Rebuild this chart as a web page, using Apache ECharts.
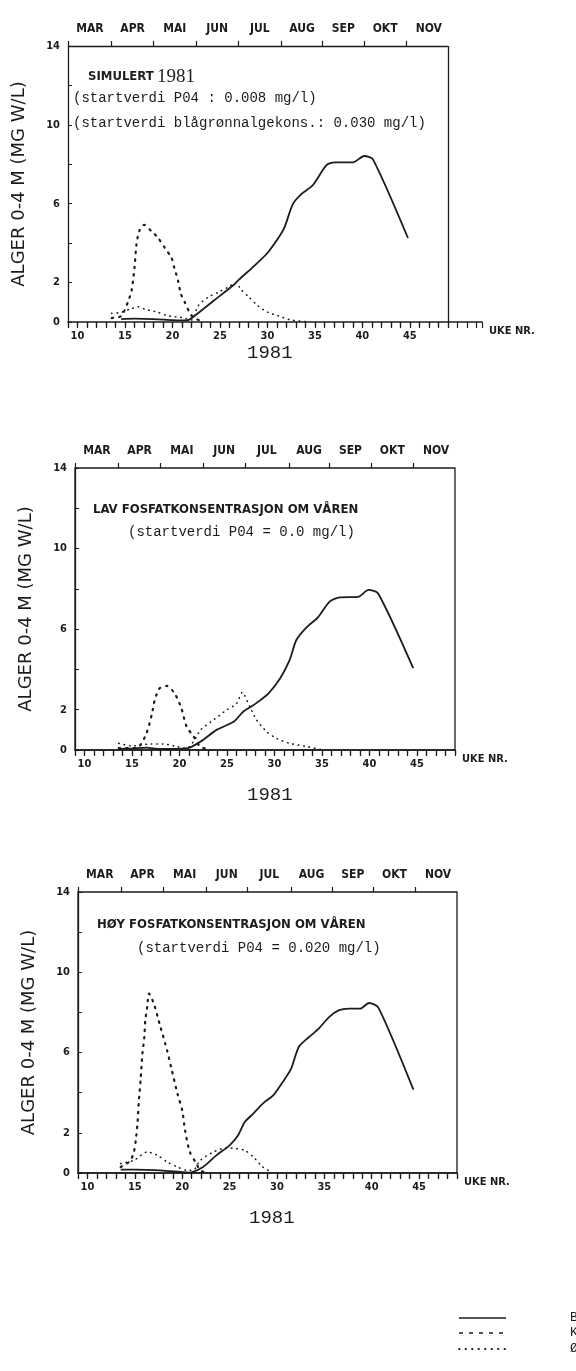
<!DOCTYPE html>
<html><head><meta charset="utf-8">
<script src="https://cdn.jsdelivr.net/npm/echarts@6/dist/echarts.min.js"></script>
<style>html,body{margin:0;padding:0;background:#fff}#c{width:576px;height:1371px}</style>
</head><body><div id="c"></div>
<script>
// ---- data (week number, mg W/L) ----
const monthNames = ['MAR','APR','MAI','JUN','JUL','AUG','SEP','OKT','NOV'];
const monthTicks = [9, 13.6, 18.0, 22.5, 26.9, 31.5, 35.8, 40.2, 44.6];
const yLabels = [0, 2, 6, 10, 14];
const xLabels = [10, 15, 20, 25, 30, 35, 40, 45];

const c1BU = [[14.6,0.15],[16,0.17],[18,0.15],[20,0.1],[21.5,0.08],[22.3,0.3],[24.4,1.1],[26.5,1.9],[27,2.15],[28.5,2.8],[30,3.5],[31.2,4.3],[31.8,4.8],[32.7,6.0],[33.6,6.5],[34.8,6.95],[36.2,7.95],[37.1,8.1],[39.0,8.1],[40.2,8.42],[41.1,8.26],[44.8,4.26]];
const c1KI = [[13.6,0.2],[14.6,0.3],[15.3,1.0],[15.7,1.6],[16.0,2.75],[16.2,3.9],[16.5,4.6],[17.0,4.93],[17.8,4.6],[18.5,4.26],[19.2,3.76],[19.9,3.26],[20.2,2.75],[20.6,2.08],[20.9,1.41],[21.3,1.0],[21.8,0.49],[22.2,0.23],[23,0.05]];
const c1OV = [[13.6,0.44],[14.6,0.49],[15.5,0.65],[16.4,0.77],[17.1,0.65],[18.5,0.49],[19.5,0.32],[20.9,0.23],[22.0,0.1],[22.7,0.82],[23.7,1.24],[24.8,1.5],[25.8,1.75],[26.7,2.0],[27.2,1.66],[28.1,1.24],[29.0,0.82],[30.05,0.49],[31.1,0.32],[32.5,0.1],[34,0.02]];

const c2BU = [[13.6,0.05],[15,0.08],[16.5,0.12],[18,0.05],[20.75,0.08],[22.2,0.41],[23.9,1.0],[25.7,1.4],[26.7,1.9],[27.8,2.23],[29.35,2.8],[30.6,3.56],[31.6,4.47],[32.3,5.46],[33.4,6.1],[34.6,6.6],[35.8,7.37],[36.9,7.58],[38.8,7.6],[39.9,7.95],[40.9,7.78],[44.6,4.06]];
const c2KI = [[13.6,0.1],[15.5,0.1],[16.5,0.8],[17.1,1.8],[17.4,2.5],[17.9,3.06],[18.65,3.18],[19.5,2.8],[20.2,2.07],[20.75,1.16],[21.5,0.66],[22.2,0.15],[23,0.05]];
const c2OV = [[13.6,0.33],[15,0.2],[16.9,0.3],[18.3,0.3],[19.7,0.17],[20.75,0.08],[21.8,0.66],[22.2,1.0],[23.6,1.5],[25.0,2.0],[26,2.3],[26.6,2.86],[27.4,2.15],[28.1,1.5],[29.2,0.9],[30.2,0.58],[31.6,0.33],[33.4,0.17],[34.8,0.03]];

const c3BU = [[13.5,0.17],[15,0.17],[17.7,0.13],[19.8,0.05],[20.7,0.02],[22.2,0.3],[23.6,0.88],[25.0,1.38],[25.9,1.88],[26.6,2.54],[27.5,2.96],[28.5,3.46],[29.6,3.87],[30.6,4.53],[31.5,5.2],[32.3,6.28],[33.4,6.78],[34.4,7.19],[35.5,7.77],[36.5,8.1],[37.6,8.19],[38.8,8.19],[39.7,8.47],[40.7,8.24],[44.4,4.15]];
const c3KI = [[13.5,0.3],[14.5,0.6],[14.9,1.05],[15.1,1.63],[15.3,2.6],[15.4,3.46],[15.6,4.6],[15.8,5.95],[16.0,6.78],[16.1,7.6],[16.3,8.27],[16.5,8.94],[17.0,8.44],[17.7,7.28],[18.4,6.11],[18.9,5.12],[19.5,3.95],[20.0,3.12],[20.3,2.13],[20.8,1.05],[21.4,0.55],[21.9,0.13],[22.5,0.02]];
const c3OV = [[13.5,0.47],[14.9,0.63],[16.3,1.05],[17.4,0.88],[18.4,0.55],[19.5,0.3],[20.5,0.13],[21.2,0.15],[21.9,0.63],[23.3,1.05],[24.7,1.26],[25.7,1.21],[26.6,1.13],[27.5,0.8],[28.5,0.3],[29.4,0.05]];

const seriesNames = ['BLÅGRØNNALGER', 'KISELALGER', 'ØVRIGE'];
const panels = [
  {bu: c1BU, ki: c1KI, ov: c1OV},
  {bu: c2BU, ki: c2KI, ov: c2OV},
  {bu: c3BU, ki: c3KI, ov: c3OV}
];

// ---- layout / styles ----
const INK = '#1c1c1c';
const COND = '"DejaVu Sans Condensed","DejaVu Sans",sans-serif';
const MONO = '"Liberation Mono","DejaVu Sans Mono",monospace';
const styleBU = {color: INK, width: 1.8};
const styleKI = {color: INK, width: 2.2, type: [1.5, 6], cap: 'round'};
const styleOV = {color: INK, width: 1.6, type: [0.5, 5], cap: 'round'};
const layout = [
  {left: 68, top: 46, width: 414, height: 276, xmax: 52.6, boxed: false},
  {left: 75, top: 468, width: 380, height: 282, xmax: 49, boxed: true},
  {left: 78, top: 892, width: 379, height: 281, xmax: 49, boxed: true}
];
const xEnd = 49;
const weekTicks = [];
for (let w = 9; w <= xEnd; w++) weekTicks.push(w);
const monthCenters = monthTicks.map((m, i) => i < monthTicks.length - 1 ? (m + monthTicks[i + 1]) / 2 : (m + xEnd) / 2 + 0.2);

const chart = echarts.init(document.getElementById('c'), null, {renderer: 'canvas'});
const grid = [], xAxis = [], yAxis = [], series = [];

layout.forEach((L, i) => {
  grid.push({left: L.left, top: L.top, width: L.width, height: L.height,
    show: L.boxed, borderColor: INK, borderWidth: 1.3, backgroundColor: 'transparent'});
  xAxis.push({gridIndex: i, type: 'value', position: 'bottom', min: 9, max: L.xmax, interval: 1,
    axisLine: {show: true, onZero: false, lineStyle: {color: INK, width: 1.5}},
    axisTick: {show: true, inside: false, length: 6, lineStyle: {color: INK, width: 1.2}},
    splitLine: {show: false},
    axisLabel: {show: true, margin: 9, color: INK, fontFamily: COND, fontWeight: 'bold', fontSize: 11,
      formatter: v => xLabels.indexOf(v) >= 0 ? String(v) : ''},
    name: 'UKE NR.', nameLocation: 'end', nameGap: 7,
    nameTextStyle: {color: INK, fontFamily: COND, fontWeight: 'bold', fontSize: 11, verticalAlign: 'top', padding: [4, 0, 0, 0]}
  });
  xAxis.push({gridIndex: i, type: 'value', position: 'top', min: 9, max: L.xmax,
    axisLine: {show: false},
    axisTick: {show: true, inside: true, length: 5, customValues: weekTicks, lineStyle: {color: INK, width: 1.2}},
    axisLabel: {show: false}, splitLine: {show: false}
  });
  xAxis.push({gridIndex: i, type: 'value', position: 'top', min: 9, max: L.xmax,
    axisLine: {show: false},
    axisTick: {show: true, inside: false, length: 5, customValues: monthTicks, lineStyle: {color: INK, width: 1.2}},
    axisLabel: {show: true, customValues: monthCenters, margin: 11, color: INK, fontFamily: COND, fontWeight: 'bold', fontSize: 12,
      formatter: v => {
        let best = 0, d = 1e9;
        monthCenters.forEach((c, k) => { if (Math.abs(c - v) < d) { d = Math.abs(c - v); best = k; } });
        return monthNames[best];
      }},
    splitLine: {show: false}
  });
  yAxis.push({gridIndex: i, type: 'value', min: 0, max: 14, interval: 2,
    axisLine: {show: true, lineStyle: {color: INK, width: 1.3}},
    axisTick: {show: true, inside: true, length: 4, lineStyle: {color: INK}},
    splitLine: {show: false},
    axisLabel: {margin: 8, color: INK, fontFamily: COND, fontWeight: 'bold', fontSize: 11,
      formatter: v => yLabels.indexOf(v) >= 0 ? String(v) : ''},
    name: 'ALGER 0-4 M (MG W/L)', nameLocation: 'middle', nameRotate: 90, nameGap: 40,
    nameTextStyle: {color: INK, fontFamily: '"DejaVu Sans",sans-serif', fontSize: 18}
  });
  const P = panels[i];
  const bu = {name: seriesNames[0], type: 'line', xAxisIndex: 3 * i, yAxisIndex: i, data: P.bu,
    symbol: 'none', smooth: 0.25, lineStyle: styleBU, itemStyle: {color: INK}, z: 3};
  if (!L.boxed) {
    bu.markLine = {silent: true, symbol: ['none', 'none'], label: {show: false},
      lineStyle: {color: INK, width: 1.3, type: 'solid'},
      data: [[{coord: [9, 14]}, {coord: [xEnd, 14]}], [{coord: [xEnd, 0]}, {coord: [xEnd, 14]}]]};
  }
  series.push(bu);
  series.push({name: seriesNames[1], type: 'line', xAxisIndex: 3 * i, yAxisIndex: i, data: P.ki,
    symbol: 'none', smooth: 0.25, lineStyle: styleKI, itemStyle: {color: INK}});
  series.push({name: seriesNames[2], type: 'line', xAxisIndex: 3 * i, yAxisIndex: i, data: P.ov,
    symbol: 'none', smooth: 0.25, lineStyle: styleOV, itemStyle: {color: INK}});
});

function txt(x, y, text, font) {
  return {type: 'text', x: x, y: y, style: {text: text, font: font, fill: INK, verticalAlign: 'middle'}};
}
function key(y, st) {
  return {type: 'line', shape: {x1: 459, y1: y, x2: 506, y2: y},
    style: {stroke: INK, lineWidth: st.width, lineDash: st.type || null, lineCap: st.cap || 'butt'}};
}
const graphic = [
  {type: 'text', x: 88, y: 77, style: {text: '{a|SIMULERT} {b|1981}', verticalAlign: 'middle', fill: INK,
    rich: {a: {fontFamily: COND, fontWeight: 'bold', fontSize: 13, fill: INK}, b: {fontFamily: '"Liberation Serif",serif', fontSize: 19, fill: INK}}}},
  txt(73, 98, '(startverdi P04 : 0.008 mg/l)', '14px ' + MONO),
  txt(73, 123, '(startverdi blågrønnalgekons.: 0.030 mg/l)', '14px ' + MONO),
  txt(93, 510, 'LAV FOSFATKONSENTRASJON OM VÅREN', 'bold 13px ' + COND),
  txt(128, 532, '(startverdi P04 = 0.0 mg/l)', '14px ' + MONO),
  txt(97, 925, 'HØY FOSFATKONSENTRASJON OM VÅREN', 'bold 13px ' + COND),
  txt(137, 948, '(startverdi P04 = 0.020 mg/l)', '14px ' + MONO),
  txt(247, 353, '1981', '19px ' + MONO),
  txt(247, 795, '1981', '19px ' + MONO),
  txt(249, 1218, '1981', '19px ' + MONO),
  // legend key
  key(1318, {width: 1.5}),
  key(1333, {width: 1.6, type: [4, 6]}),
  key(1349, {width: 1.8, type: [0.5, 6], cap: 'round'}),
  txt(570, 1318, seriesNames[0], '13px ' + MONO),
  txt(570, 1333, seriesNames[1], '13px ' + MONO),
  txt(570, 1349, seriesNames[2], '13px ' + MONO)
];

chart.setOption({
  animation: false,
  backgroundColor: '#ffffff',
  grid: grid, xAxis: xAxis, yAxis: yAxis, series: series, graphic: graphic
});
</script></body></html>
